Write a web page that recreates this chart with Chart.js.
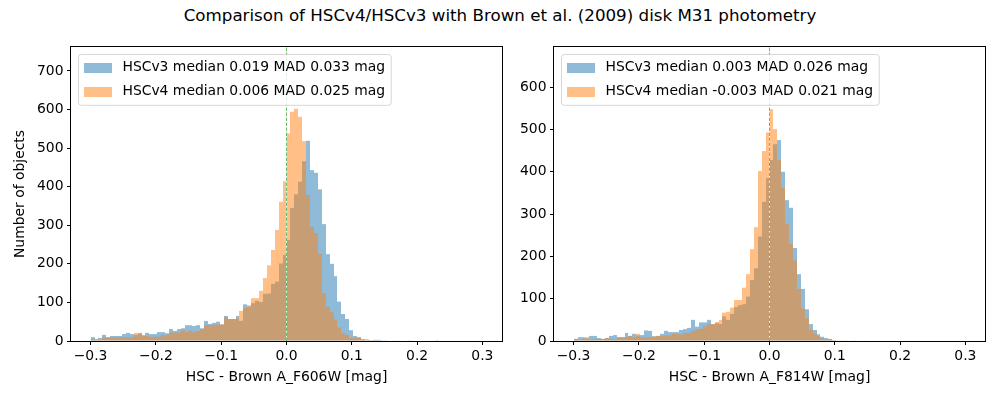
<!DOCTYPE html>
<html>
<head>
<meta charset="utf-8">
<script src="https://cdn.jsdelivr.net/npm/chart.js@4.4.1/dist/chart.umd.min.js"></script>
<style>
  body { margin: 0; width: 1000px; height: 400px; background: #fff; position: relative; overflow: hidden; font-family: 'DejaVu Sans', sans-serif; }
  #title { position: absolute; top: 5px; left: 0; width: 1000px; text-align: center; font-size: 16.7px; line-height: 20px; color: #000; }
  canvas { position: absolute; top: 0; }
</style>
</head>
<body>
<div id="title">Comparison of HSCv4/HSCv3 with Brown et al. (2009) disk M31 photometry</div>
<canvas id="c606" width="510" height="400" style="left:0"></canvas>
<canvas id="c814" width="490" height="400" style="left:510px"></canvas>
<script>
// 100 bins of width 0.006 between -0.3 and 0.3
const binCenters = Array.from({ length: 100 }, (_, i) => +(-0.297 + 0.006 * i).toFixed(3));

// counts, F606W panel
const v3F606W = [
  10, 5, 8, 16, 10, 13, 13, 13, 18, 21,
  18, 16, 21, 15, 21, 18, 18, 23, 23, 20,
  31, 26, 31, 33, 41, 41, 39, 41, 33, 52,
  44, 47, 50, 43, 65, 57, 57, 65, 52, 95,
  89, 98, 104, 101, 122, 123, 148, 154, 201, 223,
  262, 345, 380, 413, 466, 519, 443, 436, 393, 303,
  225, 200, 168, 102, 70, 57, 28, 13, 10, 4,
  2, 2, 3, 3, 1, 1, 0, 1, 1, 0,
  0, 0, 0, 0, 0, 0, 0, 0, 2, 0,
  0, 0, 0, 0, 0, 0, 0, 0, 0, 0
];
const v4F606W = [
  5, 3, 3, 9, 9, 9, 10, 10, 10, 10,
  10, 21, 18, 14, 13, 11, 11, 11, 16, 16,
  22, 22, 22, 28, 24, 27, 23, 26, 31, 41,
  41, 42, 43, 43, 62, 57, 57, 59, 78, 86,
  93, 111, 111, 130, 163, 196, 236, 288, 361, 414,
  538, 594, 602, 581, 518, 378, 296, 280, 226, 124,
  89, 75, 56, 35, 20, 16, 8, 8, 8, 5,
  5, 2, 1, 1, 1, 1, 0, 0, 0, 0,
  0, 2, 0, 0, 0, 0, 0, 0, 0, 0,
  0, 0, 0, 0, 0, 0, 0, 0, 0, 0
];

// counts, F814W panel
const v3F814W = [
  5, 9, 9, 6, 12, 12, 7, 5, 7, 12,
  14, 9, 9, 19, 12, 17, 13, 14, 25, 24,
  11, 12, 17, 24, 21, 21, 21, 26, 28, 31,
  50, 34, 44, 44, 50, 40, 42, 40, 58, 50,
  64, 80, 85, 87, 105, 144, 172, 247, 329, 385,
  428, 465, 475, 400, 333, 315, 220, 158, 123, 75,
  40, 26, 16, 10, 7, 5, 2, 1, 1, 1,
  0, 1, 0, 0, 1, 0, 0, 0, 0, 0,
  0, 0, 0, 0, 0, 0, 0, 0, 0, 0,
  0, 0, 0, 0, 0, 0, 0, 0, 0, 0
];
const v4F814W = [
  5, 3, 5, 9, 4, 5, 5, 5, 7, 5,
  4, 9, 9, 9, 12, 9, 17, 9, 9, 9,
  11, 12, 12, 13, 13, 17, 17, 15, 19, 19,
  24, 28, 29, 35, 40, 40, 45, 50, 67, 69,
  79, 97, 97, 126, 158, 217, 269, 402, 449, 493,
  548, 501, 428, 362, 277, 230, 190, 123, 77, 54,
  26, 18, 12, 6, 4, 4, 2, 2, 1, 1,
  1, 1, 0, 0, 0, 0, 0, 0, 0, 1,
  0, 0, 0, 0, 0, 0, 0, 0, 0, 0,
  0, 0, 0, 0, 0, 0, 0, 0, 0, 0
];

const xTicks = [-0.3, -0.2, -0.1, 0, 0.1, 0.2, 0.3];
const yTicksF606W = [0, 100, 200, 300, 400, 500, 600, 700];
const yTicksF814W = [0, 100, 200, 300, 400, 500, 600];
const labelsF606W = ['HSCv3 median 0.019 MAD 0.033 mag', 'HSCv4 median 0.006 MAD 0.025 mag'];
const labelsF814W = ['HSCv3 median 0.003 MAD 0.026 mag', 'HSCv4 median -0.003 MAD 0.021 mag'];

const BLUE = 'rgba(31,119,180,0.5)';
const ORANGE = 'rgba(255,127,14,0.5)';
const FS = 13.9;

Chart.defaults.font.family = "'DejaVu Sans', sans-serif";
Chart.defaults.font.size = FS;
Chart.defaults.color = '#000';

// snap bar edges to whole pixels so neighbouring half-transparent bars leave no seams
const snapBars = {
  id: 'snapBars',
  afterDatasetsUpdate(chart) {
    for (const meta of chart.getSortedVisibleDatasetMetas()) {
      if (meta.type !== 'bar') continue;
      for (const bar of meta.data) {
        const l = Math.round(bar.x - bar.width / 2);
        const r = Math.round(bar.x + bar.width / 2);
        bar.x = (l + r) / 2;
        bar.width = r - l;
      }
    }
  }
};

// axes frame + legend box in the upper left, matplotlib style
const boxLegend = {
  id: 'boxLegend',
  afterDatasetsDraw(chart, args, opts) {
    const { ctx, chartArea: a } = chart;
    ctx.save();
    ctx.strokeStyle = '#000';
    ctx.lineWidth = 1;
    ctx.strokeRect(a.left - 0.5, a.top - 0.5, a.right - a.left + 1, a.bottom - a.top + 1);

    const items = opts.items || [];
    ctx.font = `${FS}px 'DejaVu Sans', sans-serif`;
    const pad = 0.4 * FS, rowH = 16.4, gap = 0.5 * FS;
    const handleW = 2 * FS, handleH = 0.7 * FS, textPad = 0.8 * FS;
    const tw = Math.max(...items.map(it => ctx.measureText(it.text).width));
    const x0 = a.left + 0.5 * FS, y0 = a.top + 0.5 * FS;
    const w = pad * 2 + handleW + textPad + tw;
    const h = pad * 2 + rowH * items.length + gap * (items.length - 1);

    ctx.beginPath();
    ctx.roundRect(x0 + 0.5, y0 + 0.5, w, h, 3);
    ctx.fillStyle = 'rgba(255,255,255,0.8)';
    ctx.fill();
    ctx.strokeStyle = 'rgba(204,204,204,0.8)';
    ctx.stroke();

    ctx.textBaseline = 'middle';
    ctx.textAlign = 'left';
    items.forEach((it, i) => {
      const cy = y0 + pad + rowH / 2 + i * (rowH + gap);
      ctx.fillStyle = it.color;
      ctx.fillRect(Math.round(x0 + pad), Math.round(cy - handleH / 2 + 0.5), Math.round(handleW), Math.round(handleH));
      ctx.fillStyle = '#000';
      ctx.fillText(it.text, x0 + pad + handleW + textPad, cy);
    });
    ctx.restore();
  }
};

const fmtX = v => (v < 0 ? '\u2212' : '') + Math.abs(v).toFixed(1);

function tegniHistogram(id, v3, v4, labels, yTicks, yMax, xTitle, yTitle, yAxisW, padRight) {
  const ctx = document.getElementById(id).getContext('2d');
  return new Chart(ctx, {
    type: 'bar',
    data: {
      datasets: [
        {
          label: labels[0],
          data: binCenters.map((c, i) => ({ x: c, y: v3[i] })),
          backgroundColor: BLUE,
          borderWidth: 0,
          order: 2
        },
        {
          label: labels[1],
          data: binCenters.map((c, i) => ({ x: c, y: v4[i] })),
          backgroundColor: ORANGE,
          borderWidth: 0,
          order: 1
        },
        {
          type: 'line',
          label: 'zero',
          data: [{ x: 0, y: 0 }, { x: 0, y: yMax }],
          borderColor: 'rgba(44,160,44,0.7)',
          borderWidth: 1,
          borderDash: [3.5, 1.5],
          pointRadius: 0,
          order: 0
        }
      ]
    },
    options: {
      responsive: false,
      animation: false,
      events: [],
      layout: { padding: { top: 47, right: padRight, left: 0, bottom: 0 } },
      datasets: {
        bar: { grouped: false, barPercentage: 1, categoryPercentage: 1, inflateAmount: 0 }
      },
      plugins: {
        legend: { display: false },
        tooltip: { enabled: false },
        boxLegend: {
          items: [
            { text: labels[0], color: BLUE },
            { text: labels[1], color: ORANGE }
          ]
        }
      },
      scales: {
        x: {
          type: 'linear',
          min: -0.33,
          max: 0.33,
          offset: false,
          grid: { offset: false, drawOnChartArea: false, drawTicks: true, tickLength: 4, color: '#000' },
          border: { display: false },
          ticks: { autoSkip: false, maxRotation: 0, padding: 3, callback: v => fmtX(v) },
          afterBuildTicks: s => { s.ticks = xTicks.map(v => ({ value: v })); },
          afterFit: s => { s.height = 59; },
          title: { display: true, text: xTitle, padding: { top: 0, bottom: 14 } }
        },
        y: {
          min: 0,
          max: yMax,
          grid: { drawOnChartArea: false, drawTicks: true, tickLength: 4, color: '#000' },
          border: { display: false },
          ticks: { padding: 3.5, callback: v => String(v) },
          afterBuildTicks: s => { s.ticks = yTicks.map(v => ({ value: v })); },
          afterFit: s => { s.width = yAxisW; },
          title: { display: !!yTitle, text: yTitle || '', padding: { top: 12.5, bottom: 0 } }
        }
      }
    },
    plugins: [snapBars, boxLegend]
  });
}

tegniHistogram('c606', v3F606W, v4F606W, labelsF606W, yTicksF606W, 762,
  'HSC - Brown A_F606W [mag]', 'Number of objects', 71, 8);
tegniHistogram('c814', v3F814W, v4F814W, labelsF814W, yTicksF814W, 695,
  'HSC - Brown A_F814W [mag]', '', 44, 15);
</script>
</body>
</html>
